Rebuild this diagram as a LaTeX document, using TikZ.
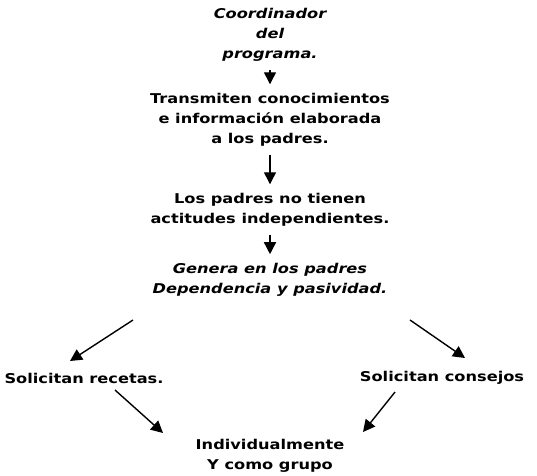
\documentclass[tikz,border=0pt]{standalone}
\usepackage{fontspec}
\setmainfont{DejaVu Sans}
\newfontfamily\comicfont[FakeStretch=1.2]{DejaVu Sans}
\usetikzlibrary{arrows.meta}
\tikzset{
    txt/.style={align=center,inner sep=0pt,font=\comicfont\bfseries\fontsize{13.5}{20}\selectfont},
    txti/.style={txt,font=\comicfont\bfseries\itshape\fontsize{13.5}{20}\selectfont},
    arr/.style={line width=1.4pt,-{Triangle[length=12pt,width=12pt]}},
    varr/.style={arr,shorten <=8pt,shorten >=9pt}
}
\begin{document}
\begin{tikzpicture}[yscale=-1,x=1pt,y=1pt]
    \useasboundingbox (0,0) rectangle (537,475);

    \node[txti] (coord) at (270,35) {Coordinador\\del\\programa.};
    \node[txt] (trans) at (270,120) {Transmiten conocimientos\\e información elaborada\\a los padres.};
    \node[txt] (padres) at (270,210) {Los padres no tienen\\actitudes independientes.};
    \node[txti] (genera) at (270,280) {Genera en los padres\\Dependencia y pasividad.};
    \node[txt] (recetas) at (84,378) {Solicitan recetas.};
    \node[txt] (consejos) at (442,378) {Solicitan consejos};
    \node[txt] (indiv) at (270,456) {Individualmente\\Y como grupo};

    \draw[varr] (coord) -- (trans);
    \draw[varr] (trans) -- (padres);
    \draw[varr] (padres) -- (genera);

    % diagonal arrows
    \coordinate (ls) at (133,320);
    \coordinate (le) at (70,361);
    \coordinate (rs) at (410,320);
    \coordinate (re) at (465,358);
    \coordinate (lls) at (115,390);
    \coordinate (lle) at (163,433);
    \coordinate (rrs) at (395,392);
    \coordinate (rre) at (363,432);
    \draw[arr] (ls) -- (le);
    \draw[arr] (rs) -- (re);
    \draw[arr] (lls) -- (lle);
    \draw[arr] (rrs) -- (rre);
\end{tikzpicture}
\end{document}
